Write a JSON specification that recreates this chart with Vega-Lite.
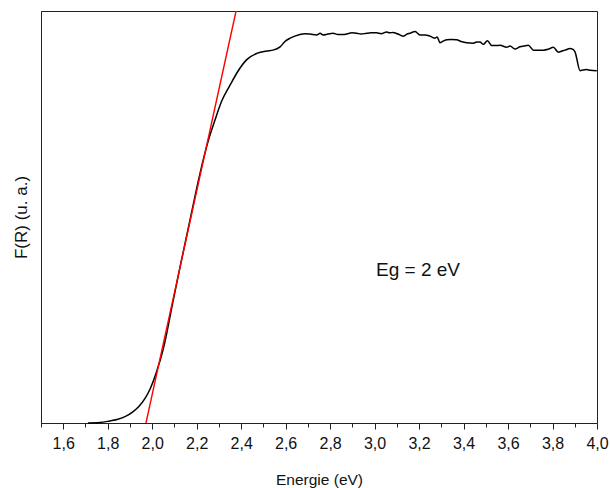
{
  "$schema": "https://vega.github.io/schema/vega-lite/v6.json",
  "autosize": "none",
  "width": 556,
  "height": 412,
  "padding": {"left": 41, "top": 11, "right": 13, "bottom": 65},
  "background": "white",
  "config": {
    "view": {"stroke": "#222", "strokeWidth": 1},
    "font": "Liberation Sans",
    "axis": {"domainColor": "#222", "tickColor": "#222", "labelColor": "#111", "titleColor": "#111", "grid": false, "titleFontWeight": "normal"}
  },
  "datasets": {
    "curve": [
      {"x": 1.711, "y": 0.000}, {"x": 1.765, "y": 0.001}, {"x": 1.810, "y": 0.005}, {"x": 1.846, "y": 0.009},
      {"x": 1.880, "y": 0.016}, {"x": 1.910, "y": 0.026}, {"x": 1.940, "y": 0.040}, {"x": 1.967, "y": 0.059},
      {"x": 1.990, "y": 0.082}, {"x": 2.020, "y": 0.125}, {"x": 2.050, "y": 0.180}, {"x": 2.095, "y": 0.299},
      {"x": 2.130, "y": 0.391}, {"x": 2.170, "y": 0.493}, {"x": 2.215, "y": 0.606}, {"x": 2.252, "y": 0.685},
      {"x": 2.282, "y": 0.735}, {"x": 2.313, "y": 0.782}, {"x": 2.350, "y": 0.820}, {"x": 2.387, "y": 0.855},
      {"x": 2.425, "y": 0.882}, {"x": 2.470, "y": 0.897}, {"x": 2.515, "y": 0.903}, {"x": 2.543, "y": 0.905},
      {"x": 2.575, "y": 0.913}, {"x": 2.597, "y": 0.926}, {"x": 2.620, "y": 0.934}, {"x": 2.665, "y": 0.943},
      {"x": 2.687, "y": 0.945}, {"x": 2.710, "y": 0.944}, {"x": 2.740, "y": 0.942}, {"x": 2.755, "y": 0.946},
      {"x": 2.768, "y": 0.942}, {"x": 2.790, "y": 0.944}, {"x": 2.813, "y": 0.946}, {"x": 2.835, "y": 0.943},
      {"x": 2.858, "y": 0.943}, {"x": 2.880, "y": 0.945}, {"x": 2.898, "y": 0.947}, {"x": 2.920, "y": 0.946},
      {"x": 2.939, "y": 0.944}, {"x": 2.964, "y": 0.946}, {"x": 2.984, "y": 0.947}, {"x": 3.009, "y": 0.947},
      {"x": 3.029, "y": 0.945}, {"x": 3.054, "y": 0.949}, {"x": 3.069, "y": 0.947}, {"x": 3.083, "y": 0.948},
      {"x": 3.105, "y": 0.944}, {"x": 3.128, "y": 0.939}, {"x": 3.146, "y": 0.944}, {"x": 3.159, "y": 0.946},
      {"x": 3.182, "y": 0.950}, {"x": 3.195, "y": 0.945}, {"x": 3.204, "y": 0.942}, {"x": 3.227, "y": 0.942},
      {"x": 3.249, "y": 0.939}, {"x": 3.272, "y": 0.934}, {"x": 3.281, "y": 0.937}, {"x": 3.294, "y": 0.923},
      {"x": 3.308, "y": 0.927}, {"x": 3.324, "y": 0.930}, {"x": 3.344, "y": 0.931}, {"x": 3.369, "y": 0.930},
      {"x": 3.389, "y": 0.926}, {"x": 3.414, "y": 0.923}, {"x": 3.444, "y": 0.922}, {"x": 3.460, "y": 0.925},
      {"x": 3.474, "y": 0.925}, {"x": 3.489, "y": 0.919}, {"x": 3.507, "y": 0.928}, {"x": 3.527, "y": 0.916},
      {"x": 3.546, "y": 0.916}, {"x": 3.564, "y": 0.917}, {"x": 3.594, "y": 0.912}, {"x": 3.609, "y": 0.915},
      {"x": 3.631, "y": 0.908}, {"x": 3.654, "y": 0.913}, {"x": 3.672, "y": 0.915}, {"x": 3.691, "y": 0.917},
      {"x": 3.714, "y": 0.905}, {"x": 3.735, "y": 0.905}, {"x": 3.759, "y": 0.905}, {"x": 3.780, "y": 0.907},
      {"x": 3.804, "y": 0.912}, {"x": 3.826, "y": 0.900}, {"x": 3.843, "y": 0.903}, {"x": 3.856, "y": 0.905},
      {"x": 3.879, "y": 0.909}, {"x": 3.892, "y": 0.907}, {"x": 3.901, "y": 0.901}, {"x": 3.924, "y": 0.855},
      {"x": 3.937, "y": 0.857}, {"x": 3.954, "y": 0.858}, {"x": 3.969, "y": 0.856}, {"x": 3.999, "y": 0.855}
    ],
    "fit": [{"x": 1.972, "y": 0}, {"x": 2.377, "y": 1}],
    "label": [{"x": 3.195, "y": 0.371, "text": "Eg = 2 eV"}]
  },
  "encoding": {
    "x": {
      "field": "x", "type": "quantitative",
      "scale": {"domain": [1.5, 4.0], "nice": false, "zero": false},
      "axis": {
        "title": "Energie (eV)",
        "values": [1.5, 1.6, 1.7, 1.8, 1.9, 2.0, 2.1, 2.2, 2.3, 2.4, 2.5, 2.6, 2.7, 2.8, 2.9, 3.0, 3.1, 3.2, 3.3, 3.4, 3.5, 3.6, 3.7, 3.8, 3.9, 4.0],
        "labelExpr": "round(datum.value*10) % 2 == 0 ? replace(format(datum.value, '.1f'), '.', ',') : ''",
        "tickSize": {"condition": {"test": "round(datum.value*10) % 2 == 0", "value": 6}, "value": 4},
        "labelFontSize": 16,
        "labelPadding": 6,
        "titleFontSize": 15.5,
        "titlePadding": 21,
        "labelFlush": false,
        "labelOverlap": false
      }
    },
    "y": {
      "field": "y", "type": "quantitative",
      "scale": {"domain": [0, 1], "nice": false},
      "axis": {"title": "F(R) (u. a.)", "labels": false, "ticks": false, "titleFontSize": 17, "titlePadding": 11}
    }
  },
  "layer": [
    {"data": {"name": "curve"}, "mark": {"type": "line", "color": "black", "strokeWidth": 1.5, "interpolate": "monotone"}},
    {"data": {"name": "fit"}, "mark": {"type": "line", "color": "#ff0000", "strokeWidth": 1.4, "clip": true}},
    {"data": {"name": "label"}, "mark": {"type": "text", "fontSize": 19, "color": "#111", "align": "center", "baseline": "middle"}, "encoding": {"text": {"field": "text"}}}
  ]
}
